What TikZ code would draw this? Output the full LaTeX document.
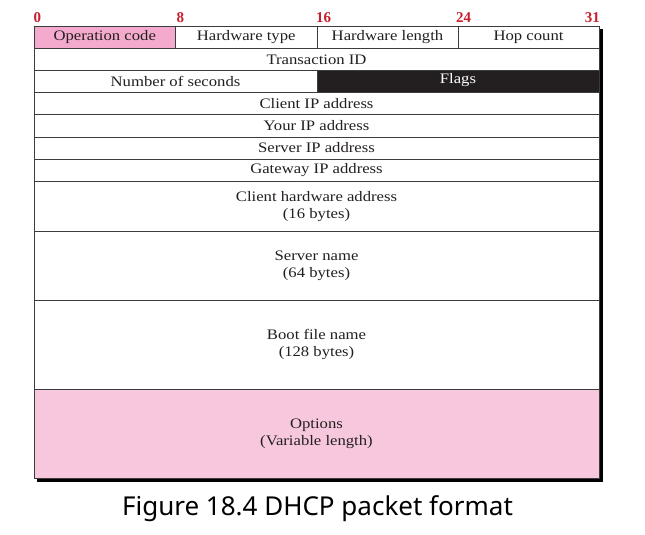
\documentclass[tikz,border=0pt]{standalone}
\usepackage{fontspec}
\newfontfamily\fieldfont[FakeStretch=1.15]{Liberation Serif}
\newfontfamily\bitfont{Liberation Serif}
\newfontfamily\capfont{Noto Sans}
\definecolor{opcode}{RGB}{244,170,205}
\definecolor{optfill}{RGB}{247,200,221}
\definecolor{flagfill}{RGB}{35,31,32}
\definecolor{bitred}{RGB}{200,30,45}
\definecolor{rule}{RGB}{60,60,60}
\definecolor{shade}{RGB}{100,100,100}
\definecolor{ink}{RGB}{35,31,32}
\tikzset{
  field/.style={draw=rule, line width=0.9pt},
  label/.style={font=\fieldfont\fontsize{14.5}{17}\selectfont, text=ink, align=center, inner sep=0pt},
  bit/.style={font=\bitfont\bfseries\fontsize{15}{16}\selectfont, text=bitred, inner sep=0pt, anchor=south west},
}
\begin{document}
\begin{tikzpicture}[x=1pt,y=-1pt]
\useasboundingbox (0,0) rectangle (645,535);
% drop shadow along the right and bottom edges
\coordinate (sh1) at (601.2,29);
\coordinate (sh2) at (601.2,480.2);
\coordinate (sh3) at (37,480.2);
\draw[shade, line width=4.4pt, line cap=butt] (sh1) -- (sh2) -- (sh3);
% background fills
\fill[white] (34,26) rectangle (599,478);
\fill[opcode] (34,26) rectangle (175.5,48.5);
\fill[flagfill] (317,70.5) rectangle (599,92.5);
\fill[optfill] (34,389.3) rectangle (599,478);
% row boundaries
\foreach \y in {48.5,70.5,92.5,114.5,137,159,181.3,231.3,300.3,389.3}
  \draw[field] (34,\y) -- (599,\y);
% column boundaries
\draw[field] (175.5,26) -- (175.5,48.5);
\draw[field] (317,26) -- (317,48.5);
\draw[field] (458,26) -- (458,48.5);
\draw[field] (317,70.5) -- (317,92.5);
% outer frame
\draw[field] (34,26) rectangle (599,478);
% bit positions
\node[bit] (b0) at (33.5,22.5) {0};
\node[bit] (b8) at (176.5,22.5) {8};
\node[bit] (b16) at (316,22.5) {16};
\node[bit] (b24) at (456,22.5) {24};
\node[bit, anchor=south east] (b31) at (600,22.5) {31};
% field labels
\node[label] (op) at (104.75,37.5) {Operation code};
\node[label] (htype) at (246.25,37.5) {Hardware type};
\node[label] (hlen) at (387.5,37.5) {Hardware length};
\node[label] (hops) at (528.5,37.5) {Hop count};
\node[label] (xid) at (316.5,59.5) {Transaction ID};
\node[label] (secs) at (175.5,81.5) {Number of seconds};
\node[label, text=white] (flags) at (458,80.5) {Flags};
\node[label] (ciaddr) at (316.5,103.5) {Client IP address};
\node[label] (yiaddr) at (316.5,125.7) {Your IP address};
\node[label] (siaddr) at (316.5,148) {Server IP address};
\node[label] (giaddr) at (316.5,170.2) {Gateway IP address};
\node[label] (chaddr) at (316.5,206.3) {Client hardware address\\(16 bytes)};
\node[label] (sname) at (316.5,265.8) {Server name\\(64 bytes)};
\node[label] (file) at (316.5,344.8) {Boot file name\\(128 bytes)};
\node[label] (opts) at (316.5,433.6) {Options\\(Variable length)};
% caption
\node[font=\capfont\fontsize{26}{30}\selectfont, text=black, inner sep=0pt] (cap) at (317.5,509) {Figure 18.4 DHCP packet format};
\end{tikzpicture}
\end{document}
